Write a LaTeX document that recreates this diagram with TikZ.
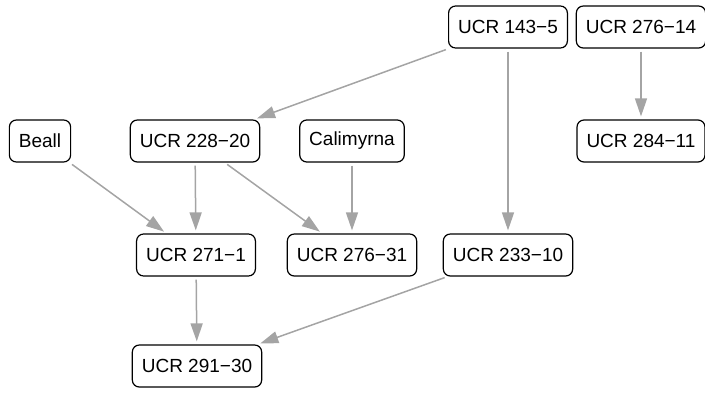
\documentclass[tikz,border=0pt]{standalone}
\usepackage{fontspec}
\setmainfont{Liberation Sans}
\usetikzlibrary{arrows.meta}
\definecolor{edgegray}{HTML}{A4A4A4}
\tikzset{
  box/.style={draw=black, rounded corners=7pt, line width=1.2pt, inner xsep=9.5pt,
    minimum height=42pt, font=\fontsize{19}{22}\selectfont, fill=white},
  link/.style={draw=edgegray, line width=1.5pt, shorten >=3pt, shorten <=3pt,
    -{Triangle[length=18pt,width=12pt]}}
}
\begin{document}
\begin{tikzpicture}[x=1pt,y=-1pt]
\useasboundingbox (0,0) rectangle (705,392);
\node[box] (u1435) at (508,27) {UCR 143−5};
\node[box] (u27614) at (641,27) {UCR 276−14};
\node[box] (u28411) at (641,141) {UCR 284−11};
\node[box] (beall) at (40,141) {Beall};
\node[box] (u22820) at (195,141) {UCR 228−20};
\node[box] (cal) at (352,141) {Calimyrna};
\node[box] (u2711) at (196,255) {UCR 271−1};
\node[box] (u27631) at (352,255) {UCR 276−31};
\node[box] (u23310) at (508,255) {UCR 233−10};
\node[box] (u29130) at (197,366) {UCR 291−30};
\draw[link] (u1435) -- (u22820);
\draw[link] (u1435) -- (u23310);
\draw[link] (u27614) -- (u28411);
\draw[link] (beall) -- (u2711);
\draw[link] (u22820) -- (u2711);
\draw[link] (u22820) -- (u27631);
\draw[link] (cal) -- (u27631);
\draw[link] (u2711) -- (u29130);
\draw[link] (u23310) -- (u29130);
\end{tikzpicture}
\end{document}
